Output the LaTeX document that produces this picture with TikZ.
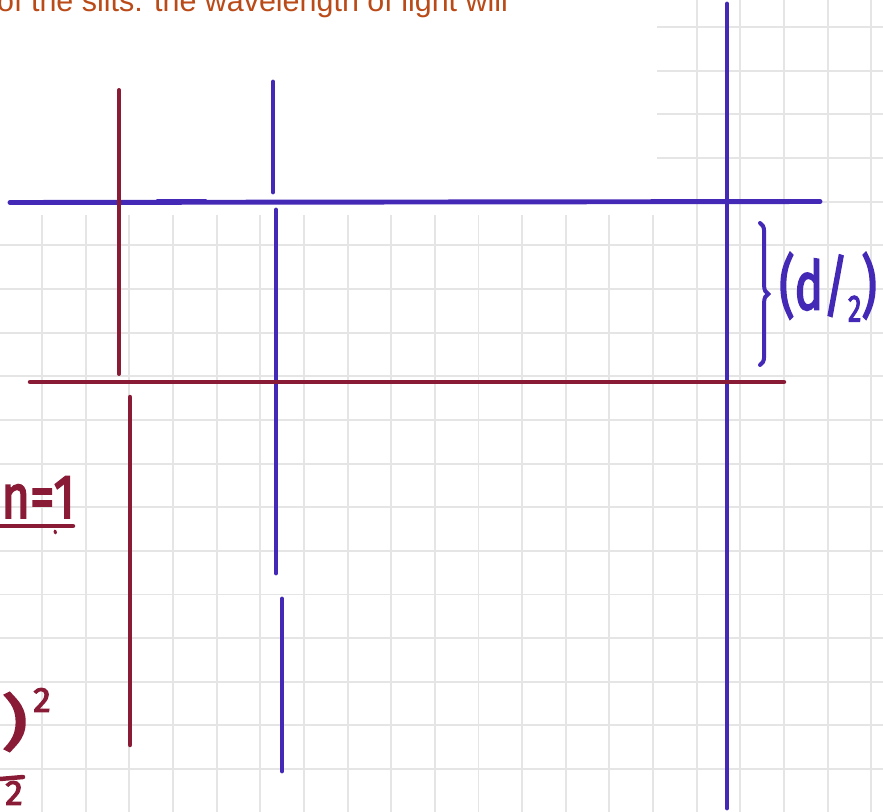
\documentclass[tikz,border=0pt]{standalone}
\usepackage{xcolor}
\usepackage{fontspec}
\usepackage{tikz}
\usetikzlibrary{positioning,decorations.pathreplacing,calc}
\newfontfamily\promptfont{Liberation Sans}
\newfontfamily\handfont[FakeBold=3]{Fira Sans}
\definecolor{penblue}{RGB}{68, 40, 182}
\definecolor{penred}{RGB}{138, 27, 54}
\definecolor{promptcolor}{RGB}{186, 74, 24}
\definecolor{gridcolor}{RGB}{229, 229, 229}
\tikzset{
    grid line/.style={draw=gridcolor, line width=1.7pt},
    blue pen/.style={draw=penblue, line width=4.2pt, line cap=round},
    red pen/.style={draw=penred, line width=3.8pt, line cap=round},
    thin red pen/.style={red pen, line width=3.4pt},
    blue ink/.style={text=penblue, inner sep=0pt},
    red ink/.style={text=penred, inner sep=0pt},
    prompt text/.style={text=promptcolor, inner sep=0pt, font=\promptfont\fontsize{26pt}{30pt}\selectfont}
}

\begin{document}
\begin{tikzpicture}[x=0.03cm, y=-0.03cm]
    \useasboundingbox (0,0) rectangle (883,812);
    \clip (0,0) rectangle (883,812);
    \fill[white] (0,0) rectangle (883,812);

    % Grid - upper right corner of the page
    \foreach \k in {15,...,19}
        \draw[grid line] ({42+43.65*\k},0) -- ({42+43.65*\k},215);
    \foreach \k in {-5,...,-1}
        \draw[grid line] (657,{245.3+43.65*\k}) -- (883,{245.3+43.65*\k});

    % Grid - lower part of the page
    \foreach \k in {0,...,19}
        \draw[grid line] ({42+43.65*\k},215) -- ({42+43.65*\k},812);
    \foreach \k in {0,...,12}
        \draw[grid line] (0,{245.3+43.65*\k}) -- (883,{245.3+43.65*\k});

    % Question text, cut at the top
    \node[prompt text, anchor=base west] (prompt) at (-3,11.5) {of the slits: the wavelength of light will};

    % Blue strokes
    \draw[blue pen] (10,202.5) -- (820,201.5);
    \draw[blue pen] (158,201) -- (205,201);
    \draw[blue pen] (273,82) -- (273,192);
    \draw[blue pen] (276,210) -- (276,573);
    \draw[blue pen] (282,599) -- (282,771);
    \draw[blue pen] (727,4) -- (727,808);

    % Red strokes
    \draw[thin red pen] (119,90) -- (119,374);
    \draw[red pen] (30,382) -- (784,382);
    \draw[red pen] (130,397) -- (130,745);

    % Brace with half spacing label
    \draw[blue pen, line width=3.4pt, decorate, decoration={brace, amplitude=7pt}] (760,223) -- (760,365);
    \node[blue ink] (half) at (828,287) {\scalebox{0.85}[1.2]{\handfont\fontsize{48pt}{52pt}\selectfont(d/\raisebox{-0.18em}{\fontsize{27pt}{28pt}\selectfont 2})}};

    % Notes on the left, cut at the page edge
    \node[red ink, anchor=base east] (order) at (75,518) {\scalebox{0.95}[1.2]{\handfont\fontsize{44pt}{48pt}\selectfont n=1}};
    \draw[red pen] (0,526) -- (73,526);
    \draw[red pen, line width=2.5pt] (55,531) -- (55.5,533);

    \node[red ink, anchor=east] (paren) at (28,722) {\scalebox{1.5}[1.1]{\handfont\fontsize{46pt}{50pt}\selectfont)}};
    \node[red ink] (square) at (42,700) {\handfont\fontsize{30pt}{32pt}\selectfont 2};
    \draw[red pen] (0,779) -- (23,777);
    \node[red ink] (half2) at (14,793) {\handfont\fontsize{30pt}{32pt}\selectfont 2};
\end{tikzpicture}
\end{document}
